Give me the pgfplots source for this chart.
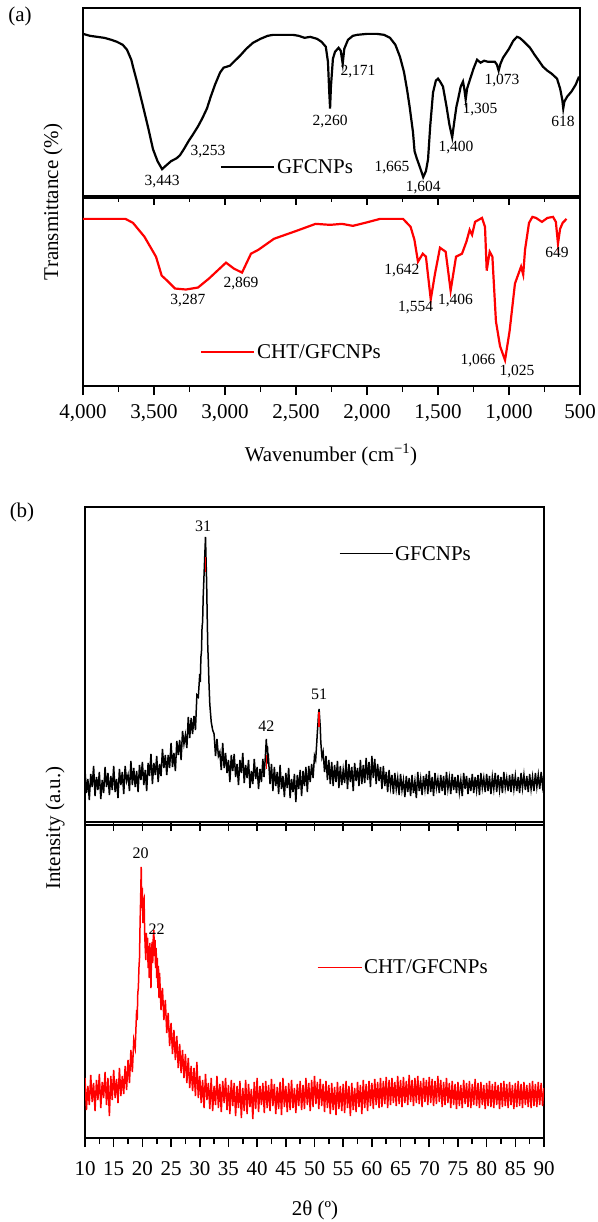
\documentclass[border=0pt]{standalone}
\usepackage{fontspec}
\setmainfont{Liberation Serif}
\usepackage{pgfplots}
\pgfplotsset{compat=1.18}
\tikzset{pk/.style={font=\fontsize{15.5}{18}\selectfont, inner sep=0pt},
  pkb/.style={font=\fontsize{16}{19}\selectfont, inner sep=0pt}}
\begin{document}
\begin{tikzpicture}
\useasboundingbox (0,0) rectangle (597pt,-1222pt);
\pgfplotsset{
  base/.style={scale only axis, axis line style={line width=2pt}, ytick=\empty,
    tick align=outside, xtick pos=lower, major tick length=9pt, minor tick length=6pt,
    every tick/.append style={line width=1.6pt, black},
    /pgf/number format/assume math mode=true,
    tick label style={font=\fontsize{21}{25}\selectfont},
    legend style={draw=none, fill=none, font=\fontsize{21}{25}\selectfont, anchor=west, inner sep=0pt},
    legend cell align=left,
    legend image code/.code={\draw[##1] (0pt,0pt) -- (53pt,0pt);}},
  ftir/.style={base, width=497pt, height=188pt, xmin=500, xmax=4000, x dir=reverse, ymin=0, ymax=189,
    xtick={500,1000,...,4000}, minor x tick num=1,
    xticklabel style={/pgf/number format/1000 sep={,}, yshift=-6pt}},
  xrd/.style={base, width=459pt, xmin=10, xmax=90, xtick={10,15,...,90}, ymin=0,
    xticklabel style={yshift=-11pt}}
}
% ---------- (a) top: GFCNPs FTIR
\begin{axis}[ftir, at={(83pt,-8pt)}, anchor=north west, xticklabel=\empty,
  legend style={at={(axis description cs:0.275,0.155)}}]
\addplot[black, line width=2.2pt] coordinates {
(4000,163)(3950,161)(3900,160)(3850,159)(3800,157)(3761,155)(3720,152)(3690,147)(3660,137)(3648,130)
(3620,115)(3577,90)(3540,68)(3507,47)(3475,35)(3443,27)(3420,30)(3380,35)(3340,38)(3317,41)
(3290,47)(3253,56)(3225,62)(3190,70)(3160,78)(3127,88)(3100,100)(3070,112)(3035,124)(3010,129)
(2965,131)(2930,136)(2894,141)(2850,148)(2803,154)(2750,158)(2700,161)(2662,162)(2600,162)(2521,162)
(2480,161)(2440,159)(2400,160)(2352,158)(2320,155)(2290,150)(2275,135)(2266,105)(2260,88)(2254,110)
(2240,138)(2225,145)(2200,149)(2185,146)(2171,133)(2160,148)(2134,157)(2100,161)(2070,162)(2000,163)
(1930,163)(1880,162)(1838,159)(1800,152)(1768,140)(1740,125)(1718,107)(1700,90)(1676,64)(1665,45)
(1650,38)(1630,30)(1604,19)(1585,25)(1570,37)(1555,70)(1535,104)(1515,116)(1500,118)(1485,115)
(1465,110)(1440,90)(1420,72)(1400,59)(1385,75)(1370,90)(1359,97)(1340,110)(1324,115)(1315,108)
(1305,97)(1295,108)(1275,117)(1250,128)(1225,137)(1200,134)(1175,136)(1150,135)(1134,135)(1100,135)
(1085,132)(1073,126)(1060,133)(1042,139)(1000,148)(970,156)(944,160)(925,159)(901,156)(880,153)
(852,149)(820,142)(790,136)(761,130)(730,126)(700,123)(662,118)(640,108)(625,97)(618,88)
(610,95)(590,100)(560,105)(530,112)(507,120)};
\addlegendentry{GFCNPs}
\node[pk] at (axis cs:3443,15) {3,443};
\node[pk] at (axis cs:3120,45) {3,253};
\node[pk] at (axis cs:2260,75) {2,260};
\node[pk] at (axis cs:2063,125) {2,171};
\node[pk] at (axis cs:1824,29) {1,665};
\node[pk] at (axis cs:1604,9) {1,604};
\node[pk] at (axis cs:1373,49) {1,400};
\node[pk] at (axis cs:1204,87) {1,305};
\node[pk] at (axis cs:1049,116) {1,073};
\node[pk] at (axis cs:620,75) {618};
\end{axis}
% ---------- (a) bottom: CHT/GFCNPs FTIR
\begin{axis}[ftir, at={(83pt,-198pt)}, anchor=north west,
  legend style={at={(axis description cs:0.235,0.18)}}]
\addplot[red, line width=2.2pt] coordinates {
(4000,168)(3701,168)(3648,164)(3567,150)(3486,130)(3446,111)(3408,106)(3352,98)(3275,97)(3190,99)
(3113,108)(2993,124)(2937,118)(2880,114)(2817,133)(2764,137)(2655,148)(2496,156)(2362,163)(2260,162)
(2176,163)(2100,161)(2014,164)(1908,168)(1746,168)(1693,160)(1666,147)(1641,125)(1607,133)(1585,130)
(1551,87)(1521,113)(1486,139)(1446,135)(1411,96)(1373,130)(1331,133)(1300,145)(1277,157)(1260,152)
(1239,165)(1190,169)(1169,160)(1157,116)(1136,135)(1117,130)(1092,65)(1063,40)(1028,26)(996,55)
(958,103)(915,120)(900,112)(887,137)(859,164)(835,170)(810,169)(768,165)(729,169)(690,170)
(670,165)(655,143)(640,158)(622,164)(595,168)};
\addlegendentry{CHT/GFCNPs}
\node[pk] at (axis cs:3261,86) {3,287};
\node[pk] at (axis cs:2887,103) {2,869};
\node[pk] at (axis cs:1754,116) {1,642};
\node[pk] at (axis cs:1658,79) {1,554};
\node[pk] at (axis cs:1377,86) {1,406};
\node[pk] at (axis cs:1218,26) {1,066};
\node[pk] at (axis cs:944,15) {1,025};
\node[pk] at (axis cs:662,134) {649};
\end{axis}
\node[font=\fontsize{21}{25}\selectfont] at (20pt,-16pt) {(a)};
\node[font=\fontsize{21}{25}\selectfont, rotate=90] at (53pt,-202pt) {Transmittance (\%)};
\node[font=\fontsize{21}{25}\selectfont] at (331pt,-455pt) {Wavenumber (cm\textsuperscript{−1})};
% ---------- (b) top: GFCNPs XRD
\begin{axis}[xrd, at={(85pt,-507pt)}, anchor=north west, height=315pt, ymax=315, xticklabel=\empty,
  legend style={at={(axis description cs:0.553,0.851)}},
  legend image code/.code={\draw[#1, line width=1pt] (0pt,0pt) -- (53pt,0pt);}]
\addplot[black, line width=1.5pt] coordinates {
(10,52)(10.25,29)(10.5,43)(10.75,22)(11,48)(11.25,35)(11.5,56)(11.75,26)(12,45)(12.25,32)
(12.5,50)(12.75,23)(13,42)(13.25,29)(13.5,55)(13.75,35)(14,49)(14.25,27)(14.5,46)(14.75,32)
(15,56)(15.25,30)(15.5,43)(15.75,24)(16,53)(16.25,37)(16.5,50)(16.75,28)(17,56)(17.25,41)
(17.5,47)(17.75,31)(18,61)(18.25,37)(18.5,54)(18.75,35)(19,51)(19.25,30)(19.5,57)(19.75,42)
(20,60)(20.25,37)(20.5,52)(20.75,31)(21,59)(21.25,46)(21.5,68)(21.75,38)(22,59)(22.25,47)
(22.5,66)(22.75,40)(23,58)(23.25,46)(23.5,73)(23.75,54)(24,67)(24.25,47)(24.5,67)(24.75,54)
(25,79)(25.25,55)(25.5,69)(25.75,51)(26,81)(26.25,67)(26.5,82)(26.75,62)(27,91)(27.25,78)
(27.5,87)(27.75,74)(28,105)(28.25,84)(28.5,104)(28.75,88)(29,106)(29.25,92)(29.5,127)(29.75,125)
(30,148)(30.1,140)(30.2,165)(30.3,170)(30.4,195)(30.5,200)(30.6,225)(30.7,240)(30.8,255)(30.9,270)
(31,285)(31.1,262)(31.2,240)(31.3,205)(31.4,175)(31.5,160)(31.6,140)(31.75,118)(32,100)(32.25,92)
(32.5,88)(32.75,66)(33,83)(33.25,66)(33.5,70)(33.75,52)(34,79)(34.25,54)(34.5,69)(34.75,49)
(35,62)(35.25,40)(35.5,67)(35.75,51)(36,68)(36.25,45)(36.5,58)(36.75,37)(37,62)(37.25,49)
(37.5,69)(37.75,39)(38,57)(38.25,44)(38.5,62)(38.75,34)(39,51)(39.25,38)(39.5,63)(39.75,43)
(40,55)(40.25,33)(40.5,53)(40.75,40)(41,63)(41.2,45)(41.4,62)(41.5,72)(41.6,83)(41.7,70)
(41.8,76)(41.9,58)(42,62)(42.25,38)(42.5,58)(42.75,31)(43,55)(43.25,36)(43.5,50)(43.75,28)
(44,57)(44.25,33)(44.5,46)(44.75,25)(45,49)(45.25,34)(45.5,54)(45.75,24)(46,43)(46.25,30)
(46.5,48)(46.75,20)(47,47)(47.25,33)(47.5,52)(47.75,26)(48,51)(48.25,36)(48.5,55)(48.75,30)
(49,56)(49.25,40)(49.5,58)(49.75,44)(50,66)(50.2,62)(50.4,80)(50.5,90)(50.6,98)(50.7,108)
(50.8,113)(50.9,104)(51,95)(51.1,80)(51.2,72)(51.3,65)(51.5,70)(51.75,50)(52,66)(52.25,42)
(52.5,62)(52.75,38)(53,60)(53.25,36)(53.5,57)(53.75,40)(54,61)(54.25,34)(54.5,56)(54.75,37)
(55,52)(55.25,39)(55.5,62)(55.75,33)(56,58)(56.25,40)(56.5,55)(56.75,31)(57,59)(57.25,41)
(57.5,54)(57.75,36)(58,62)(58.25,38)(58.5,57)(58.75,39)(59,64)(59.25,42)(59.5,60)(59.75,35)
(60,66)(60.25,44)(60.5,63)(60.75,38)(61,58)(61.25,41)(61.5,55)(61.75,33)(62,56)(62.25,36)
(62.5,50)(62.75,30)(63,52)(63.25,35)(63.5,47)(63.75,28)(64,49)(64.25,33)(64.5,44)(64.75,27)
(65,48)(65.25,32)(65.5,42)(65.75,25)(66,46)(66.25,30)(66.5,44)(66.75,26)(67,47)(67.25,29)
(67.5,41)(67.75,24)(68,50)(68.25,31)(68.5,43)(68.75,27)(69,46)(69.25,33)(69.5,48)(69.75,28)
(70,51)(70.25,30)(70.5,45)(70.75,26)(71,49)(71.25,34)(71.5,43)(71.75,29)(72,47)(72.25,31)
(72.5,46)(72.75,27)(73,50)(73.25,33)(73.5,44)(73.75,28)(74,48)(74.25,32)(74.5,45)(74.75,29)
(75,47)(75.25,30)(75.5,42)(75.75,26)(76,49)(76.25,33)(76.5,46)(76.75,28)(77,44)(77.25,31)
(77.5,48)(77.75,29)(78,45)(78.25,32)(78.5,47)(78.75,27)(79,49)(79.25,34)(79.5,44)(79.75,30)
(80,48)(80.25,31)(80.5,46)(80.75,28)(81,45)(81.25,33)(81.5,49)(81.75,30)(82,47)(82.25,32)
(82.5,45)(82.75,29)(83,50)(83.25,34)(83.5,44)(83.75,31)(84,47)(84.25,30)(84.5,48)(84.75,33)
(85,46)(85.25,31)(85.5,45)(85.75,29)(86,49)(86.25,34)(86.5,47)(86.75,32)(87,46)(87.25,30)
(87.5,48)(87.75,33)(88,45)(88.25,31)(88.5,49)(88.75,35)(89,47)(89.25,33)(89.5,50)(89.75,36)(90,48)};
\addlegendentry{GFCNPs}
\addplot[red, line width=1.2pt, forget plot] coordinates {(31,250)(31,265)};
\addplot[red, line width=1.2pt, forget plot] coordinates {(41.6,53)(41.6,67)};
\addplot[red, line width=1.2pt, forget plot] coordinates {(50.8,95)(50.8,110)};
\node[pkb] at (axis cs:30.6,296) {31};
\node[pkb] at (axis cs:41.6,96) {42};
\node[pkb] at (axis cs:50.8,128) {51};
\end{axis}
% ---------- (b) bottom: CHT/GFCNPs XRD
\begin{axis}[xrd, at={(85pt,-825pt)}, anchor=north west, height=313pt, ymax=313, minor x tick num=1,
  legend style={at={(axis description cs:0.505,0.546)}},
  legend image code/.code={\draw[#1, line width=1pt] (0pt,0pt) -- (44pt,0pt);}]
\addplot[red, line width=1.5pt] coordinates {
(10,60)(10.25,28)(10.5,52)(10.75,33)(11,63)(11.25,36)(11.5,55)(11.75,27)(12,58)(12.25,38)
(12.5,64)(12.75,30)(13,56)(13.25,40)(13.5,66)(13.75,33)(14,60)(14.25,22)(14.5,62)(14.75,38)
(15,68)(15.25,40)(15.5,59)(15.75,35)(16,70)(16.25,42)(16.5,62)(16.75,44)(17,72)(17.25,48)
(17.5,78)(17.75,55)(18,88)(18.25,66)(18.5,98)(18.75,90)(19,128)(19.1,118)(19.2,145)(19.3,150)
(19.4,170)(19.5,180)(19.6,215)(19.7,240)(19.8,271)(19.9,230)(20,250)(20.1,215)(20.2,235)(20.3,238)
(20.4,205)(20.5,190)(20.6,178)(20.7,205)(20.8,185)(20.9,200)(21,170)(21.1,192)(21.2,160)(21.3,195)
(21.4,178)(21.5,150)(21.6,188)(21.7,196)(21.8,175)(21.9,200)(22,208)(22.1,182)(22.2,198)(22.3,170)
(22.4,190)(22.5,160)(22.6,180)(22.7,150)(22.8,172)(22.9,140)(23,165)(23.25,128)(23.5,150)(23.75,118)
(24,138)(24.25,105)(24.5,125)(24.75,92)(25,115)(25.25,84)(25.5,108)(25.75,78)(26,102)(26.25,70)
(26.5,94)(26.75,65)(27,88)(27.25,60)(27.5,84)(27.75,55)(28,80)(28.25,50)(28.5,72)(28.75,47)
(29,70)(29.25,42)(29.5,76)(29.75,40)(30,62)(30.25,35)(30.5,58)(30.75,30)(31,64)(31.25,38)
(31.5,55)(31.75,29)(32,60)(32.25,27)(32.5,52)(32.75,33)(33,62)(33.25,30)(33.5,54)(33.75,26)
(34,57)(34.25,35)(34.5,60)(34.75,28)(35,53)(35.25,24)(35.5,58)(35.75,32)(36,55)(36.25,22)
(36.5,52)(36.75,30)(37,57)(37.25,20)(37.5,50)(37.75,27)(38,58)(38.25,24)(38.5,54)(38.75,31)
(39,49)(39.25,19)(39.5,56)(39.75,29)(40,60)(40.25,26)(40.5,52)(40.75,33)(41,55)(41.25,25)
(41.5,57)(41.75,30)(42,53)(42.25,27)(42.5,59)(42.75,32)(43,54)(43.25,24)(43.5,51)(43.75,29)
(44,56)(44.25,23)(44.5,60)(44.75,31)(45,52)(45.25,26)(45.5,55)(45.75,28)(46,58)(46.25,30)
(46.5,50)(46.75,25)(47,54)(47.25,32)(47.5,57)(47.75,28)(48,53)(48.25,29)(48.5,60)(48.75,33)
(49,55)(49.25,27)(49.5,58)(49.75,31)(50,62)(50.25,34)(50.5,56)(50.75,29)(51,59)(51.25,32)
(51.5,54)(51.75,26)(52,57)(52.25,30)(52.5,53)(52.75,24)(53,55)(53.25,28)(53.5,51)(53.75,23)
(54,56)(54.25,29)(54.5,52)(54.75,27)(55,54)(55.25,25)(55.5,57)(55.75,30)(56,52)(56.25,22)
(56.5,55)(56.75,28)(57,50)(57.25,26)(57.5,56)(57.75,31)(58,53)(58.25,24)(58.5,58)(58.75,30)
(59,54)(59.25,27)(59.5,57)(59.75,32)(60,55)(60.25,29)(60.5,59)(60.75,33)(61,56)(61.25,30)
(61.5,60)(61.75,31)(62,57)(62.25,34)(62.5,61)(62.75,30)(63,58)(63.25,33)(63.5,60)(63.75,35)
(64,56)(64.25,32)(64.5,62)(64.75,34)(65,58)(65.25,31)(65.5,61)(65.75,35)(66,57)(66.25,33)
(66.5,63)(66.75,36)(67,58)(67.25,32)(67.5,60)(67.75,35)(68,62)(68.25,34)(68.5,57)(68.75,31)
(69,60)(69.25,36)(69.5,58)(69.75,33)(70,61)(70.25,35)(70.5,59)(70.75,32)(71,57)(71.25,34)
(71.5,62)(71.75,36)(72,58)(72.25,31)(72.5,56)(72.75,33)(73,60)(73.25,35)(73.5,55)(73.75,30)
(74,57)(74.25,33)(74.5,54)(74.75,29)(75,56)(75.25,32)(75.5,53)(75.75,30)(76,58)(76.25,34)
(76.5,55)(76.75,31)(77,57)(77.25,30)(77.5,54)(77.75,33)(78,59)(78.25,32)(78.5,55)(78.75,30)
(79,56)(79.25,33)(79.5,53)(79.75,29)(80,55)(80.25,32)(80.5,57)(80.75,31)(81,54)(81.25,30)
(81.5,56)(81.75,33)(82,53)(82.25,29)(82.5,55)(82.75,31)(83,57)(83.25,32)(83.5,54)(83.75,30)
(84,56)(84.25,33)(84.5,53)(84.75,29)(85,55)(85.25,31)(85.5,57)(85.75,32)(86,54)(86.25,30)
(86.5,56)(86.75,33)(87,53)(87.25,31)(87.5,55)(87.75,30)(88,57)(88.25,32)(88.5,54)(88.75,31)
(89,56)(89.25,33)(89.5,55)(89.75,32)(90,50)};
\addlegendentry{CHT/GFCNPs}
\node[pkb] at (axis cs:19.7,285) {20};
\node[pkb] at (axis cs:22.5,209) {22};
\end{axis}
\node[font=\fontsize{21}{25}\selectfont] at (22pt,-512pt) {(b)};
\node[font=\fontsize{21}{25}\selectfont, rotate=90] at (55pt,-828pt) {Intensity (a.u.)};
\node[font=\fontsize{21}{25}\selectfont] at (315pt,-1210pt) {2θ (º)};
\end{tikzpicture}
\end{document}
